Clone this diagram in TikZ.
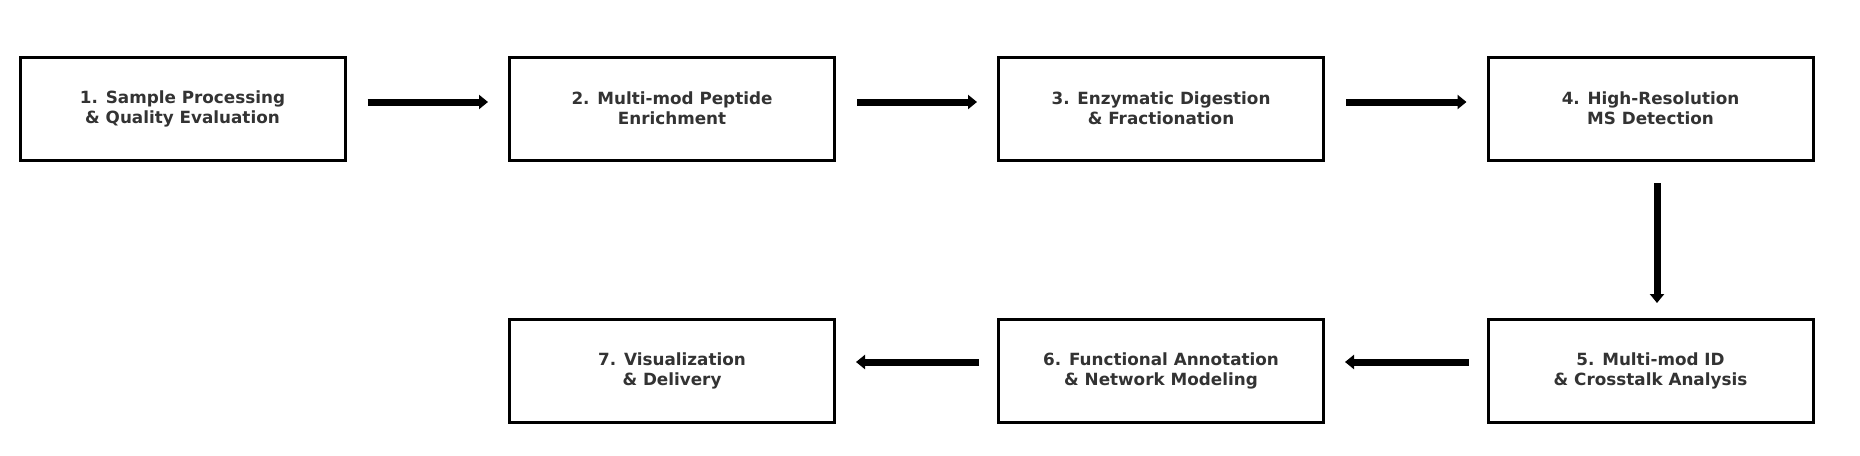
\documentclass[tikz,border=0pt]{standalone}
\usepackage{fontspec}
\setmainfont{DejaVu Sans}
\usetikzlibrary{arrows.meta}
\definecolor{txt}{HTML}{333333}
\begin{document}
\begin{tikzpicture}[x=1pt,y=-1pt,
  stepbox/.style={draw=black,line width=3pt,minimum width=325pt,minimum height=103pt,inner sep=0pt,
    font=\fontsize{16.8}{20}\selectfont\bfseries,text=txt,align=center},
  flow/.style={line width=7pt,-{Triangle[length=9pt,width=14pt]}}]
\useasboundingbox (0,0) rectangle (1860,455);
\node[stepbox] (b1) at (182.5,108.5) {1. Sample Processing\\\& Quality Evaluation};
\node[stepbox] (b2) at (672,108.5) {2. Multi-mod Peptide\\Enrichment};
\node[stepbox] (b3) at (1161,108.5) {3. Enzymatic Digestion\\\& Fractionation};
\node[stepbox] (b4) at (1650.5,108.5) {4. High-Resolution\\MS Detection};
\node[stepbox] (b5) at (1650.5,370.5) {5. Multi-mod ID\\\& Crosstalk Analysis};
\node[stepbox] (b6) at (1161,370.5) {6. Functional Annotation\\\& Network Modeling};
\node[stepbox] (b7) at (672,370.5) {7. Visualization\\\& Delivery};
\draw[flow] ([xshift=21pt]b1.east|-0,102) -- ([xshift=-20pt]b2.west|-0,102);
\draw[flow] ([xshift=21pt]b2.east|-0,102) -- ([xshift=-20pt]b3.west|-0,102);
\draw[flow] ([xshift=21pt]b3.east|-0,102) -- ([xshift=-20pt]b4.west|-0,102);
\draw[flow] (1657,183) -- (1657,303);
\draw[flow] ([xshift=-18pt]b5.west|-0,362) -- ([xshift=20pt]b6.east|-0,362);
\draw[flow] ([xshift=-18pt]b6.west|-0,362) -- ([xshift=20pt]b7.east|-0,362);
\end{tikzpicture}
\end{document}
